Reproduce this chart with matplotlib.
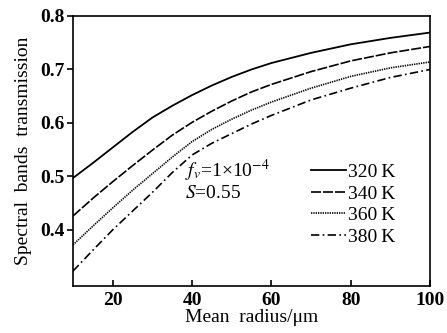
import numpy as np
import matplotlib.pyplot as plt

plt.rcParams['font.family'] = ['Liberation Serif', 'DejaVu Serif']
plt.rcParams['mathtext.fontset'] = 'stix'

radius = [10, 15, 20, 25, 30, 35, 40, 45, 50, 55, 60, 70, 80, 90, 100]
t320 = [0.497, 0.525, 0.554, 0.583, 0.610, 0.632, 0.652, 0.670, 0.686, 0.700, 0.712,
        0.731, 0.747, 0.759, 0.769]
t340 = [0.426, 0.459, 0.490, 0.520, 0.549, 0.577, 0.601, 0.622, 0.641, 0.658, 0.672,
        0.696, 0.716, 0.731, 0.743]
t360 = [0.372, 0.407, 0.441, 0.474, 0.505, 0.536, 0.565, 0.588, 0.607, 0.624, 0.639,
        0.665, 0.687, 0.703, 0.714]
t380 = [0.323, 0.362, 0.400, 0.435, 0.470, 0.507, 0.540, 0.562, 0.580, 0.598, 0.614,
        0.643, 0.665, 0.685, 0.700]
labels = ['320\u2009K', '340\u2009K', '360\u2009K', '380\u2009K']

fig = plt.figure(figsize=(4.47, 3.33), dpi=100)
ax = fig.add_axes([0.1633, 0.141, 0.7987, 0.811])

ax.plot(radius, t320, 'k-', lw=1.3, label=labels[0])
ax.plot(radius, t340, 'k', ls=(0, (6, 1.2)), lw=1.2, label=labels[1])
ax.plot(radius, t360, 'k', ls=(0, (0.8, 0.6)), lw=1.2, label=labels[2])
ax.plot(radius, t380, 'k', ls=(0, (5, 2, 1, 2)), lw=1.2, label=labels[3])

ax.set_xlim(10, 100)
ax.set_ylim(0.295, 0.8)
ax.set_xticks([20, 40, 60, 80, 100])
ax.set_yticks([0.4, 0.5, 0.6, 0.7, 0.8])
ax.tick_params(axis='x', direction='in', length=4, width=1.2, labelsize=14, pad=4)
ax.tick_params(axis='y', direction='out', length=4, width=1.2, labelsize=14, pad=2)
for lab in ax.get_xticklabels() + ax.get_yticklabels():
    lab.set_fontweight('bold')
for sp in ax.spines.values():
    sp.set_linewidth(1.2)

ax.set_xlabel('Mean  radius/\u03bcm', fontsize=14, labelpad=0)
ax.set_ylabel('Spectral  bands  transmission', fontsize=14, labelpad=6)

ax.text(0.314, 0.428, '$f_v$=1\u00d710$^{-4}$', transform=ax.transAxes, fontsize=14, va='center')
ax.text(0.314, 0.342, '$S$=0.55', transform=ax.transAxes, fontsize=14, va='center')

ax.legend(loc='upper left', bbox_to_anchor=(0.64, 0.49), frameon=False, fontsize=14,
          handlelength=1.8, handletextpad=0.1, labelspacing=0.2, borderpad=0)

fig.savefig('out.png', dpi=100)
